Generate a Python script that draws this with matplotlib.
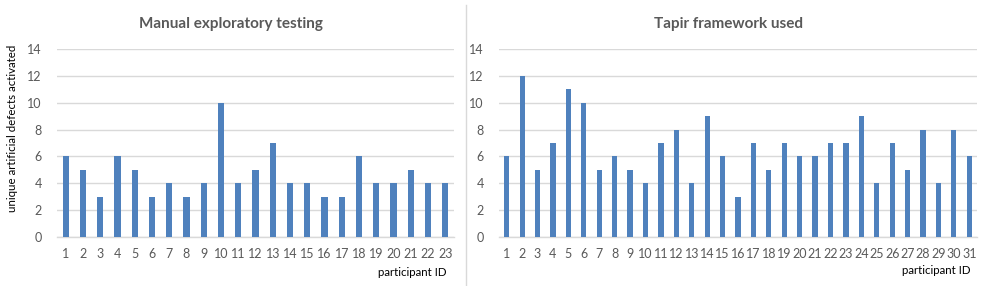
import numpy as np
import matplotlib.pyplot as plt
from matplotlib.lines import Line2D

plt.rcParams.update({
    'font.family': ['Lato', 'DejaVu Sans'],
})

manual_ids = [str(i) for i in range(1, 24)]
manual_defects = [6, 5, 3, 6, 5, 3, 4, 3, 4, 10, 4, 5, 7, 4, 4, 3, 3, 6, 4, 4, 5, 4, 4]

tapir_ids = [str(i) for i in range(1, 32)]
tapir_defects = [6, 12, 5, 7, 11, 10, 5, 6, 5, 4, 7, 8, 4, 9, 6, 3, 7, 5, 7, 6,
                 6, 7, 7, 9, 4, 7, 5, 8, 4, 8, 6]

bar_color = '#4F81BD'
grid_color = '#D9D9D9'
text_color = '#595959'

fig = plt.figure(figsize=(9.81, 2.86), dpi=100)
ax1 = fig.add_axes([57 / 981, 1 - 237 / 286, 397 / 981, 188 / 286])
ax2 = fig.add_axes([499 / 981, 1 - 237 / 286, 478 / 981, 188 / 286])


def style(ax, ids, vals, width):
    x = np.arange(len(ids))
    ax.bar(x, vals, width=width, color=bar_color, zorder=3)
    ax.set_xlim(-0.5, len(ids) - 0.5)
    ax.set_ylim(0, 14)
    ax.set_yticks(range(0, 15, 2))
    ax.set_xticks(x)
    ax.set_xticklabels(ids)
    ax.yaxis.grid(True, color=grid_color, linewidth=1, zorder=0)
    for s in ['top', 'right', 'left']:
        ax.spines[s].set_visible(False)
    ax.spines['bottom'].set_color(grid_color)
    ax.spines['bottom'].set_linewidth(1)
    ax.tick_params(axis='both', length=0, labelsize=9, colors=text_color)
    ax.tick_params(axis='x', pad=8)
    ax.tick_params(axis='y', pad=11)


style(ax1, manual_ids, manual_defects, 0.36)
style(ax2, tapir_ids, tapir_defects, 0.34)

# chart titles are centred on each chart area, not the plot area
fig.text(231 / 981, 1 - 28 / 286, 'Manual exploratory testing', ha='center', va='baseline',
         fontsize=11, fontweight='bold', color=text_color)
fig.text(729 / 981, 1 - 28 / 286, 'Tapir framework used', ha='center', va='baseline',
         fontsize=11, fontweight='bold', color=text_color)

fig.text(446 / 981, 1 - 272 / 286, 'participant ID', ha='right', va='center',
         fontsize=8.3, color='black')
fig.text(970 / 981, 1 - 271 / 286, 'participant ID', ha='right', va='center',
         fontsize=8.3, color='black')
fig.text(13 / 981, 1 - 128 / 286, 'unique artificial defects activated',
         rotation=90, ha='center', va='center', fontsize=8.3, color='black')

fig.add_artist(Line2D([465.5 / 981, 465.5 / 981], [0, 1 - 5 / 286],
                      transform=fig.transFigure, color=grid_color, linewidth=1))

fig.savefig('out.png', dpi=100)
